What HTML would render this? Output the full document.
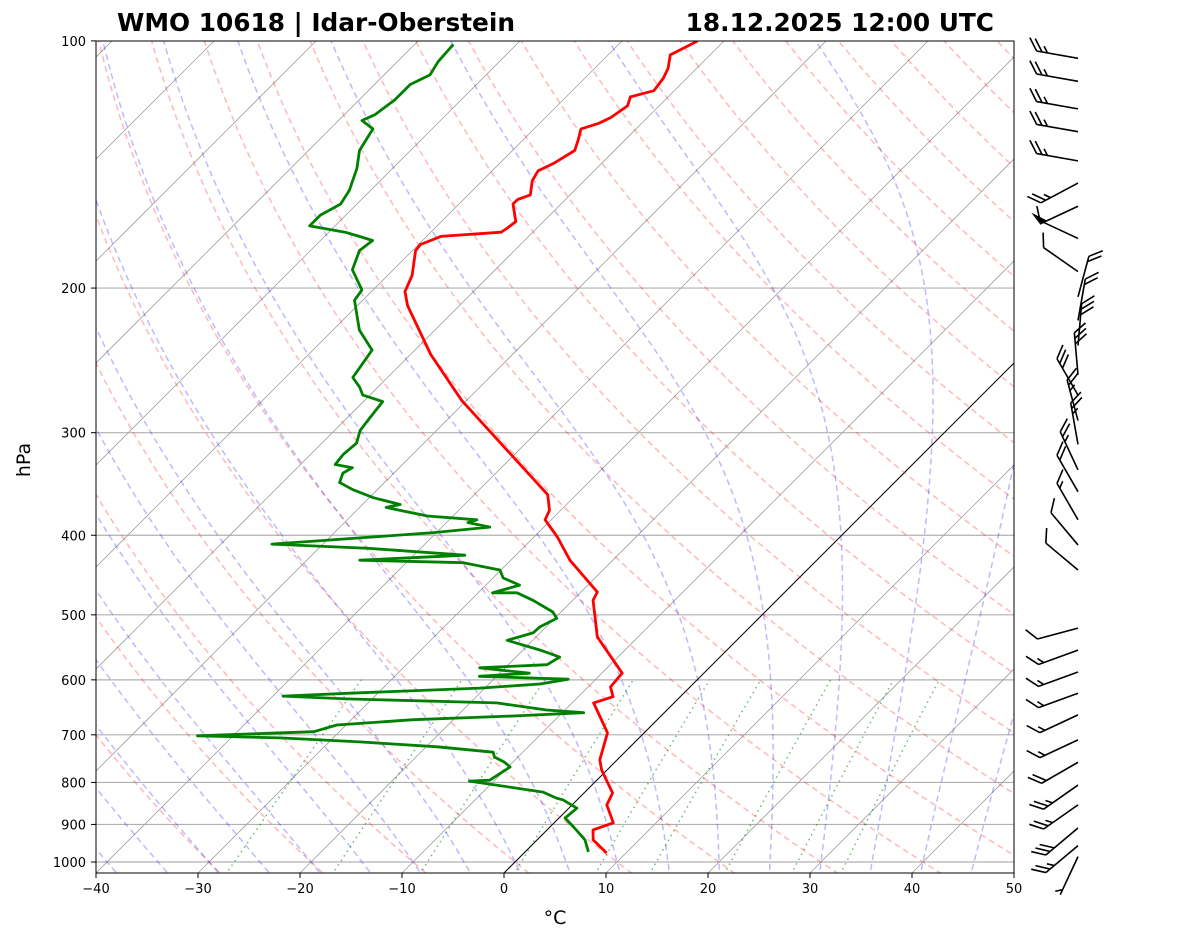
<!DOCTYPE html>
<html><head><meta charset="utf-8"><style>
html,body{margin:0;padding:0;background:#fff;}
svg{display:block;font-family:"DejaVu Sans","Liberation Sans",sans-serif;}
</style></head><body>
<svg id="chart" width="1181" height="941" viewBox="0 0 1181 941">
<defs><clipPath id="plotclip"><rect x="96" y="41" width="918" height="832"/></clipPath></defs>
<rect x="0" y="0" width="1181" height="941" fill="#fff"/>
<g id="bg" clip-path="url(#plotclip)"></g>
<g id="prof" clip-path="url(#plotclip)"></g>
<rect x="96" y="41" width="918" height="832" fill="none" stroke="#000" stroke-width="1"/>
<g id="axes"></g>
<g id="barbs"></g>
<text x="117" y="31" font-size="24.8" font-weight="bold">WMO 10618 | Idar-Oberstein</text>
<text x="994" y="31" font-size="24.8" font-weight="bold" text-anchor="end">18.12.2025 12:00 UTC</text>
<text x="0" y="0" font-size="19" text-anchor="middle" transform="translate(30,460) rotate(-90)">hPa</text>
<text x="555" y="924" font-size="19" text-anchor="middle">°C</text>
</svg>
<script>
const tempP = [975,940,914,896,852,824,773,751,696,640,629,612,589,532,480,469,429,402,383,373,357,274,241,210,202,193,180,177,173,171,169,166,158,156,154,148,144,141,136,132,128,126,124,120,117,115,111,108,104,101,100];
const tempT = [8.1,5.5,4.5,5.8,3.4,2.8,-0.5,-1.7,-3.6,-7.9,-6.6,-7.8,-8.0,-14.0,-18.0,-18.4,-24.2,-27.7,-30.6,-31.1,-32.8,-50.5,-58.0,-65.1,-66.7,-67.6,-69.7,-69.8,-68.6,-63.1,-62.9,-62.7,-64.7,-64.7,-63.9,-65.1,-65.5,-64.7,-63.9,-64.6,-65.4,-64.2,-63.6,-63.1,-63.7,-62.0,-62.3,-62.8,-63.9,-62.9,-62.6];
const dewP = [972,940,909,884,860,840,836,822,797,795,766,756,745,735,724,714,706,702,694,681,671,664,658,653,640,633,628,623,614,607,599,594,589,580,575,563,552,537,526,517,505,496,480,470,470,460,451,441,432,429,423,415,410,403,397,391,386,383,379,373,370,367,360,352,345,336,331,328,319,309,298,287,275,270,264,257,238,225,207,201,190,180,175,173,171,168,163,158,152,143,136,128,125,123,118,113,110,106,101];
const dewT = [6.2,4.7,2.5,0.6,0.8,-1.4,-2.2,-4.1,-12.4,-10.5,-9.8,-10.8,-12.3,-12.9,-18.9,-27.0,-35.2,-43.5,-32.5,-30.9,-23.9,-14.5,-7.9,-11.8,-17.4,-32.5,-39.0,-33.0,-20.5,-15.0,-12.7,-21.7,-17.1,-22.5,-16.2,-15.7,-18.3,-22.5,-20.7,-20.6,-19.8,-20.8,-23.9,-26.2,-28.6,-26.7,-29.0,-30.1,-34.4,-44.8,-35.0,-45.0,-55.0,-47.0,-40.3,-35.3,-37.9,-37.3,-42.5,-45.8,-47.4,-46.3,-49.6,-52.4,-54.4,-55.0,-54.6,-56.6,-56.8,-56.6,-57.5,-57.8,-58.1,-60.7,-61.8,-63.4,-64.2,-67.4,-70.8,-71.1,-74.0,-75.2,-74.9,-76.6,-78.4,-82.5,-82.5,-81.6,-82.1,-83.5,-85.0,-85.8,-87.7,-87.0,-86.5,-86.5,-85.5,-86.0,-86.2];
const windP = [105,112,121,129,140,149,159,174,191,205,219,235,255,270,290,310,333,354,383,411,441,519,552,587,623,662,710,756,806,852,909,955,985];
const windDir = [280,280,280,280,280,242,245,295,305,15,10,5,355,330,345,350,335,330,330,320,310,255,250,250,250,245,245,240,235,235,230,230,205];
const windSpd = [25,25,25,25,25,25,50,10,10,20,20,30,30,30,25,25,25,20,15,10,10,10,15,15,15,15,15,20,25,25,30,25,5];
const xTicks = [-40,-30,-20,-10,0,10,20,30,40,50];
const pTicks = [1000,900,800,700,600,500,400,300,200,100];

const NS="http://www.w3.org/2000/svg";
function yP(p){return 862-356.6*Math.log(1000/p);}
function xT(t,p){return 96+(t+40)*10.2+(873-yP(p));}
function mk(tag,attrs,parent){const e=document.createElementNS(NS,tag);for(const k in attrs)e.setAttribute(k,attrs[k]);parent.appendChild(e);return e;}
const bg=document.getElementById('bg'),prof=document.getElementById('prof'),axes=document.getElementById('axes'),barbs=document.getElementById('barbs');
function pathFrom(pts){return 'M'+pts.map(q=>q[0].toFixed(1)+','+q[1].toFixed(1)).join('L');}
const pLevels=[];for(let p=1050;p>=99;p*=0.985)pLevels.push(p);pLevels.push(99);

for(const p of pTicks){
  const l=mk('line',{x1:96,x2:1014,y1:yP(p),y2:yP(p),stroke:'#b0b0b0','stroke-width':1.2},bg);
  
  
}
for(let t=-120;t<=50;t+=10){
  const l=mk('line',{x1:xT(t,1040),y1:yP(1040),x2:xT(t,99),y2:yP(99),stroke:t===0?'#000':'#a0a0a0','stroke-width':t===0?1:0.8},bg);
  
  
}
for(let th=-30;th<=250;th+=10){
  const K=th+273.15;
  const pts=pLevels.map(p=>[xT(K*Math.pow(p/1000,0.2857)-273.15,p),yP(p)]);
  const e=mk('path',{d:pathFrom(pts),fill:'none',stroke:'rgba(255,0,0,0.28)','stroke-width':1.5,'stroke-dasharray':'6,4'},bg);
  
  
}
function es(tc){return 6.112*Math.exp(17.67*tc/(tc+243.5));}
function dTdp(T,p){const tc=T-273.15;const e=es(tc);const rs=0.622*e/(p-e);const Rd=287.04,Lv=2.501e6,Cp=1005.7;
  return (1/p)*(Rd*T+Lv*rs)/(Cp+Lv*Lv*rs*0.622/(Rd*T*T));}
for(let t0=-40;t0<=50;t0+=5){
  let T=t0+273.15,p=1000;const up=[[xT(t0,1000),yP(1000)]];
  while(p>99){const np=p*0.99;T+=dTdp(T,p)*(np-p);p=np;up.push([xT(T-273.15,p),yP(p)]);}
  T=t0+273.15;p=1000;const dn=[];
  while(p<1050){const np=p*1.01;T+=dTdp(T,p)*(np-p);p=np;dn.push([xT(T-273.15,p),yP(p)]);}
  const pts=dn.reverse().concat(up);
  const e=mk('path',{d:pathFrom(pts),fill:'none',stroke:'rgba(0,0,255,0.27)','stroke-width':1.5,'stroke-dasharray':'6,4'},bg);
  
  
}
const mixW=[0.0004,0.001,0.002,0.004,0.007,0.01,0.016,0.024,0.032];
for(const w of mixW){
  const pts=[];
  for(let p=1050;p>=600;p-=10){const e=p*w/(0.622+w);const l=Math.log(e/6.112);const td=243.5*l/(17.67-l);pts.push([xT(td,p),yP(p)]);}
  const e=mk('path',{d:pathFrom(pts),fill:'none',stroke:'rgba(0,128,0,0.55)','stroke-width':1.5,'stroke-dasharray':'1.5,4'},bg);
  
  
}
const tl=mk('path',{d:pathFrom(tempP.map((p,i)=>[xT(tempT[i],p),yP(p)])),fill:'none',stroke:'#f00','stroke-width':2.8,'stroke-linejoin':'round'},prof);


const dl=mk('path',{d:pathFrom(dewP.map((p,i)=>[xT(dewT[i],p),yP(p)])),fill:'none',stroke:'#008000','stroke-width':2.8,'stroke-linejoin':'round'},prof);



for(const t of xTicks){
  const x=96+(t+40)*10.2;
  const tk=mk('line',{x1:x,x2:x,y1:873,y2:878,stroke:'#000','stroke-width':1},axes);
  
  
  const tx=mk('text',{x:x,y:893,'font-size':13,'text-anchor':'middle'},axes);
  tx.textContent=t<0?'\u2212'+Math.abs(t):String(t);
  
  
}
for(const p of pTicks){
  const y=yP(p);
  const tk=mk('line',{x1:91,x2:96,y1:y,y2:y,stroke:'#000','stroke-width':1},axes);
  
  
  const tx=mk('text',{x:86,y:y+5,'font-size':13,'text-anchor':'end'},axes);
  tx.textContent=String(p);
  
  
}
for(let i=0;i<windP.length;i++){
  const bx=1078,by=yP(windP[i]);const d=windDir[i]*Math.PI/180;
  const ux=Math.sin(d),uy=-Math.cos(d);const L=42;
  const tx=bx+L*ux,ty=by+L*uy;
  const g=mk('g',{},barbs);
  
  
  mk('line',{x1:bx,y1:by,x2:tx,y2:ty,stroke:'#000','stroke-width':1.6},g);
  const px=-uy,py=ux;let s=windSpd[i];let pos=0;const sp=5.5;
  const flags=Math.floor(s/50);s-=flags*50;const full=Math.floor(s/10);s-=full*10;const half=s>=5?1:0;
  for(let f=0;f<flags;f++){const ax=tx-ux*pos,ay=ty-uy*pos;const cx=tx-ux*(pos+8),cy=ty-uy*(pos+8);
    mk('polygon',{points:`${ax},${ay} ${cx},${cy} ${ax+px*14+ux*3},${ay+py*14+uy*3}`,fill:'#000'},g);pos+=10;}
  for(let f=0;f<full;f++){const ax=tx-ux*pos,ay=ty-uy*pos;
    mk('line',{x1:ax,y1:ay,x2:ax+px*12+ux*9,y2:ay+py*12+uy*9,stroke:'#000','stroke-width':1.6},g);pos+=sp;}
  if(half){if(pos===0)pos=sp;const ax=tx-ux*pos,ay=ty-uy*pos;
    mk('line',{x1:ax,y1:ay,x2:ax+px*6+ux*4.5,y2:ay+py*6+uy*4.5,stroke:'#000','stroke-width':1.6},g);}
}
</script>
</body></html>
